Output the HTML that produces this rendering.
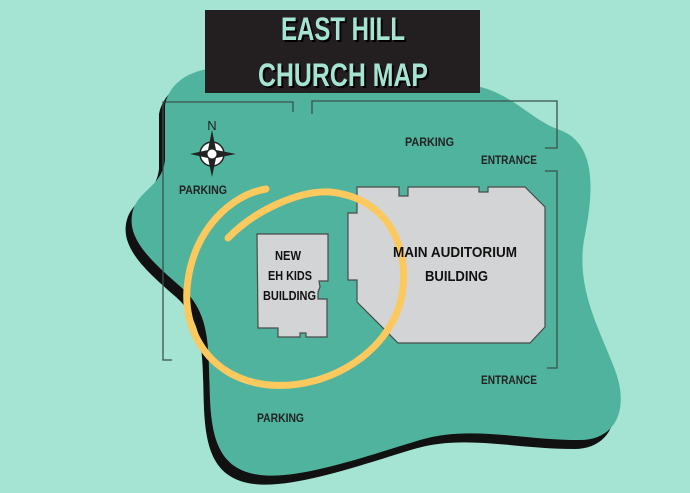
<!DOCTYPE html>
<html><head><meta charset="utf-8"><style>
html,body{margin:0;padding:0;background:#a5e3d3;}
svg{display:block}
text{font-family:"Liberation Sans",sans-serif;font-weight:bold;}
</style></head><body>
<svg width="690" height="493" viewBox="0 0 690 493" xmlns="http://www.w3.org/2000/svg">
<rect width="690" height="493" fill="#a5e3d3"/>
<g>
<path transform="translate(-6,9)" fill="#111" d="M165,105 C170,80 195,66 230,68 L470,85 C510,90 530,120 560,130 C600,145 592,200 584,240 C576,290 600,330 615,370 C630,410 615,440 580,440 C520,440 470,425 420,440 C370,455 300,480 260,475 C220,470 212,440 210,400 C208,350 212,315 182,288 C152,262 128,240 132,215 C136,190 162,188 165,160 Z"/>
<path fill="#50b39e" d="M165,105 C170,80 195,66 230,68 L470,85 C510,90 530,120 560,130 C600,145 592,200 584,240 C576,290 600,330 615,370 C630,410 615,440 580,440 C520,440 470,425 420,440 C370,455 300,480 260,475 C220,470 212,440 210,400 C208,350 212,315 182,288 C152,262 128,240 132,215 C136,190 162,188 165,160 Z"/>
</g>
<g fill="none" stroke="#3a524c" stroke-width="1.3">
<polyline points="293,112 293,102 163,102 163,360 172,360"/>
<polyline points="312,114 312,101 557,101 557,148 545,148"/>
<polyline points="545,171 557,171 557,368 547,368"/>
</g>
<polygon fill="#d3d4d6" stroke="#4a4a4a" stroke-width="1.2" points="357,187 399,187 399,196 408,196 408,187 479,187 479,192 488,192 488,187 525,187 545,207 545,327 530,343 398,343 357,302 357,280 348,280 348,213 357,213"/>
<polygon fill="#d3d4d6" stroke="#4a4a4a" stroke-width="1.2" points="257,234 328,234 328,281 319,281 320,287 318,292 318,299 327,299 327,337 306,337 306,333 300,333 300,337 278,337 278,328 258,328"/>
<g fill="none" stroke="#fcc95e" stroke-width="7" stroke-linecap="round">
<path d="M228,238 C255,210 300,190 330,192 C390,198 410,250 402,295 C392,350 330,390 270,385 C210,380 180,330 188,280 C195,230 230,195 266,189"/>
</g>
<g transform="translate(212,154)">
<circle r="12" fill="#fff" stroke="#222" stroke-width="1.5"/>
<polygon fill="#222" points="0,-24 4,-4 24,0 4,4 0,23 -4,4 -22,0 -4,-4"/>
<circle r="5" fill="#fff" stroke="#222" stroke-width="1"/>
</g>
<text x="212" y="130" font-size="13" text-anchor="middle" fill="#222" style="font-weight:normal">N</text>
<rect x="205" y="10" width="275" height="83" fill="#231f20"/>
<g font-size="32">
<text x="283" y="42" fill="#000" textLength="124" lengthAdjust="spacingAndGlyphs">EAST HILL</text>
<text x="281" y="40" fill="#a5e3d3" textLength="124" lengthAdjust="spacingAndGlyphs">EAST HILL</text>
<text x="260" y="88" fill="#000" textLength="170" lengthAdjust="spacingAndGlyphs">CHURCH MAP</text>
<text x="258" y="86" fill="#a5e3d3" textLength="170" lengthAdjust="spacingAndGlyphs">CHURCH MAP</text>
</g>
<g fill="#222" font-size="12">
<text x="405" y="146" textLength="49" lengthAdjust="spacingAndGlyphs">PARKING</text>
<text x="179" y="194" textLength="48" lengthAdjust="spacingAndGlyphs">PARKING</text>
<text x="481" y="164" textLength="56" lengthAdjust="spacingAndGlyphs">ENTRANCE</text>
<text x="481" y="384" textLength="56" lengthAdjust="spacingAndGlyphs">ENTRANCE</text>
<text x="257" y="422" textLength="47" lengthAdjust="spacingAndGlyphs">PARKING</text>
</g>
<g fill="#111" font-size="15">
<text x="393" y="257" textLength="124" lengthAdjust="spacingAndGlyphs">MAIN AUDITORIUM</text>
<text x="425" y="281" textLength="63" lengthAdjust="spacingAndGlyphs">BUILDING</text>
</g>
<g fill="#111" font-size="13">
<text x="275" y="260" textLength="26" lengthAdjust="spacingAndGlyphs">NEW</text>
<text x="268" y="280" textLength="44" lengthAdjust="spacingAndGlyphs">EH KIDS</text>
<text x="263" y="300" textLength="53" lengthAdjust="spacingAndGlyphs">BUILDING</text>
</g>
</svg>
</body></html>
